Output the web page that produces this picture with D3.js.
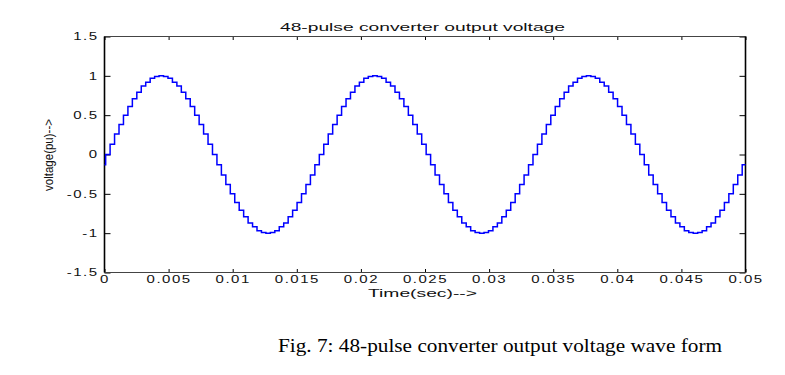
<!DOCTYPE html>
<html>
<head>
<meta charset="utf-8">
<script src="https://cdn.jsdelivr.net/npm/d3@7"></script>
<style>
  body { margin: 0; background: #fff; }
  svg { display: block; }
  .axis path { display: none; }
  .axis line { stroke: #000; }
  .axis text { font-family: "Liberation Sans", Arial, sans-serif; font-size: 10px; fill: #111; letter-spacing: 1px; }
</style>
</head>
<body>
<div id="container"></div>
<script>
// step levels of the 48-pulse staircase (pu), left to right
const voltage = [
  -0.13,
  0, 0.13, 0.26, 0.38, 0.5, 0.61, 0.71, 0.79, 0.87, 0.92, 0.97, 0.99,
  1, 0.99, 0.97, 0.92, 0.87, 0.79, 0.71, 0.61, 0.5, 0.38, 0.26, 0.13,
  0, -0.13, -0.26, -0.38, -0.5, -0.61, -0.71, -0.79, -0.87, -0.92, -0.97, -0.99,
  -1, -0.99, -0.97, -0.92, -0.87, -0.79, -0.71, -0.61, -0.5, -0.38, -0.26, -0.13,
  0, 0.13, 0.26, 0.38, 0.5, 0.61, 0.71, 0.79, 0.87, 0.92, 0.97, 0.99,
  1, 0.99, 0.97, 0.92, 0.87, 0.79, 0.71, 0.61, 0.5, 0.38, 0.26, 0.13,
  0, -0.13, -0.26, -0.38, -0.5, -0.61, -0.71, -0.79, -0.87, -0.92, -0.97, -0.99,
  -1, -0.99, -0.97, -0.92, -0.87, -0.79, -0.71, -0.61, -0.5, -0.38, -0.26, -0.13,
  0, 0.13, 0.26, 0.38, 0.5, 0.61, 0.71, 0.79, 0.87, 0.92, 0.97, 0.99,
  1, 0.99, 0.97, 0.92, 0.87, 0.79, 0.71, 0.61, 0.5, 0.38, 0.26, 0.13,
  0, -0.13, -0.26, -0.38, -0.5, -0.61, -0.71, -0.79, -0.87, -0.92, -0.97, -0.99,
  -1, -0.99, -0.97, -0.92, -0.87, -0.79, -0.71, -0.61, -0.5, -0.38, -0.26, -0.13
]
// sampling of the staircase (sec): first switching instant and step width
const firstSwitch = 0.00009
const stepWidth = 0.05 / 144
const timeEnd = 0.05

const xTicks = [0, 0.005, 0.01, 0.015, 0.02, 0.025, 0.03, 0.035, 0.04, 0.045, 0.05]
const xTickLabels = ["0", "0.005", "0.01", "0.015", "0.02", "0.025", "0.03", "0.035", "0.04", "0.045", "0.05"]
const yTicks = [-1.5, -1, -0.5, 0, 0.5, 1, 1.5]
const yTickLabels = ["-1.5", "-1", "-0.5", "0", "0.5", "1", "1.5"]

const title = "48-pulse converter output voltage"
const xLabel = "Time(sec)-->"
const yLabel = "voltage(pu)-->"
const caption = "Fig. 7: 48-pulse converter output voltage wave form"

/* BUILD STEP POINTS */
const data = voltage.map((v, i) => ({
    t: i === 0 ? 0 : firstSwitch + (i - 1) * stepWidth,
    v: v
}))
data.push({ t: timeEnd, v: voltage[voltage.length - 1] })

const W = 785, H = 375
const plot = { left: 104.5, right: 745.5, top: 36.5, bottom: 272.5 }

const svg = d3.select("#container")
    .append("svg")
    .attr("width", W)
    .attr("height", H)

const x = d3.scaleLinear().domain([0, timeEnd]).range([plot.left, plot.right])
const y = d3.scaleLinear().domain([-1.5, 1.5]).range([plot.bottom, plot.top])

/* AXES */
const sx = 1.5
svg.append("g")
    .attr("class", "axis")
    .attr("transform", `translate(0, ${plot.bottom})`)
    .call(d3.axisBottom(x)
        .tickValues(xTicks)
        .tickFormat((d, i) => xTickLabels[i])
        .tickSizeInner(-3.5)
        .tickSizeOuter(0)
        .tickPadding(3.5))
    .selectAll("text")
    .attr("transform", `scale(${sx},1)`)

svg.append("g")
    .attr("class", "axis")
    .attr("transform", `translate(0, ${plot.top})`)
    .call(d3.axisTop(x).tickValues(xTicks).tickFormat("").tickSizeInner(-3.5).tickSizeOuter(0))

svg.append("g")
    .attr("class", "axis")
    .attr("transform", `translate(${plot.left}, 0)`)
    .call(d3.axisLeft(y)
        .tickValues(yTicks)
        .tickFormat((d, i) => yTickLabels[i])
        .tickSizeInner(-6)
        .tickSizeOuter(0)
        .tickPadding(4))
    .selectAll("text")
    .attr("transform", `scale(${sx},1)`)

svg.append("g")
    .attr("class", "axis")
    .attr("transform", `translate(${plot.right}, 0)`)
    .call(d3.axisRight(y).tickValues(yTicks).tickFormat("").tickSizeInner(-6).tickSizeOuter(0))

/* BOX */
svg.append("line")
    .attr("x1", plot.left).attr("x2", plot.right)
    .attr("y1", plot.top).attr("y2", plot.top)
    .attr("stroke", "#444").attr("stroke-width", 1)
svg.append("line")
    .attr("x1", plot.left).attr("x2", plot.right)
    .attr("y1", plot.bottom).attr("y2", plot.bottom)
    .attr("stroke", "#444").attr("stroke-width", 1)
svg.append("line")
    .attr("x1", plot.left).attr("x2", plot.left)
    .attr("y1", plot.top).attr("y2", plot.bottom)
    .attr("stroke", "#000").attr("stroke-width", 1.6)
svg.append("line")
    .attr("x1", plot.right).attr("x2", plot.right)
    .attr("y1", plot.top).attr("y2", plot.bottom)
    .attr("stroke", "#000").attr("stroke-width", 1.6)

/* STAIRCASE */
svg.append("path")
    .datum(data)
    .attr("fill", "none")
    .attr("stroke", "#0000ff")
    .attr("stroke-width", 1.5)
    .attr("d", d3.line()
        .x(d => x(d.t))
        .y(d => y(d.v))
        .curve(d3.curveStepAfter))

/* TEXTS */
svg.append("text")
    .attr("x", 422.5 - 142.5)
    .attr("y", 31)
    .attr("textLength", 285)
    .attr("lengthAdjust", "spacingAndGlyphs")
    .style("font-family", "'Liberation Sans', Arial, sans-serif")
    .style("font-size", "11px")
    .style("fill", "#111")
    .text(title)

svg.append("text")
    .attr("x", 422.5 - 54.5)
    .attr("y", 297)
    .attr("textLength", 109)
    .attr("lengthAdjust", "spacingAndGlyphs")
    .style("font-family", "'Liberation Sans', Arial, sans-serif")
    .style("font-size", "11px")
    .style("fill", "#111")
    .text(xLabel)

svg.append("text")
    .attr("transform", "translate(53, 155) rotate(-90)")
    .attr("x", -36)
    .attr("y", 0)
    .attr("textLength", 72)
    .attr("lengthAdjust", "spacingAndGlyphs")
    .style("font-family", "'Liberation Sans', Arial, sans-serif")
    .style("font-size", "13px")
    .style("fill", "#111")
    .text(yLabel)

svg.append("text")
    .attr("x", 278)
    .attr("y", 352)
    .attr("textLength", 444)
    .attr("lengthAdjust", "spacingAndGlyphs")
    .style("font-family", "'Liberation Serif', 'Times New Roman', serif")
    .style("font-size", "19px")
    .text(caption)
</script>
</body>
</html>
